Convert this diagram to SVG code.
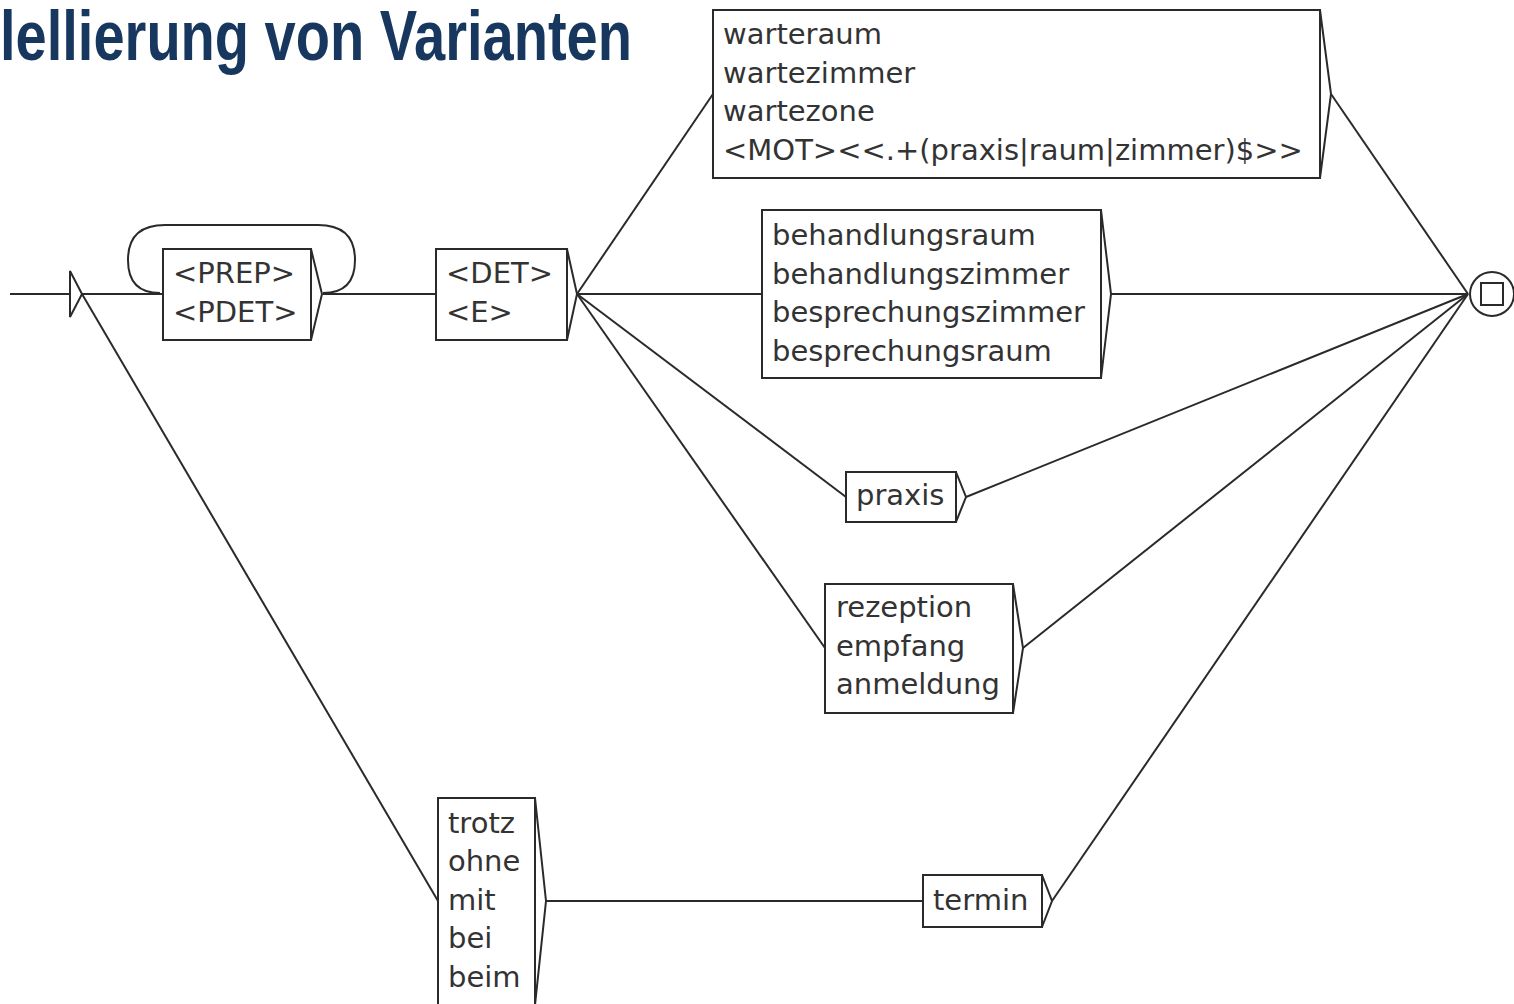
<svg xmlns="http://www.w3.org/2000/svg" width="1514" height="1004" viewBox="0 0 1514 1004">
<style>
.bx{fill:#fff;stroke:#2a2a2a;stroke-width:2}
.ar{fill:none;stroke:#2a2a2a;stroke-width:2;stroke-linejoin:miter}
.ln{fill:none;stroke:#2a2a2a;stroke-width:2}
.t{font-family:"DejaVu Sans","Liberation Sans",sans-serif;font-size:29px;fill:#333}
.title{font-family:"Liberation Sans",Arial,sans-serif;font-weight:bold;font-size:70px;fill:#17375f}
</style>
<rect width="1514" height="1004" fill="#fff"/>
<text class="title" x="0" y="60" textLength="632" lengthAdjust="spacingAndGlyphs">lellierung von Varianten</text>
<g id="connectors">
<path class="ln" d="M10,294 H70"/>
<path class="ln" d="M82,294 H163"/>
<path class="ln" d="M160,293 Q128,293 128,260 Q128,225 165,225 L318,225 Q355,225 355,260 Q355,293 323,293"/>
<path class="ln" d="M323,294 H436"/>
<path class="ln" d="M577,294 L713,94"/>
<path class="ln" d="M577,294 H762"/>
<path class="ln" d="M577,294 L846,497"/>
<path class="ln" d="M577,294 L825,648"/>
<path class="ln" d="M1331,94 L1468,294"/>
<path class="ln" d="M1111,294 H1468"/>
<path class="ln" d="M966,497 L1468,294"/>
<path class="ln" d="M1023,648 L1468,294"/>
<path class="ln" d="M82,294 L438,901"/>
<path class="ln" d="M546,901 H923"/>
<path class="ln" d="M1052,901 L1468,294"/>
</g>
<g id="initial">
<path class="ar" d="M70,271 V317 L82,294 Z"/>
</g>
<g id="final">
<circle cx="1492" cy="294" r="22" fill="#fff" stroke="#2a2a2a" stroke-width="2"/>
<rect x="1481" y="283" width="22" height="22" fill="none" stroke="#2a2a2a" stroke-width="2"/>
</g>
<g id="n-prep">
<rect class="bx" x="163" y="249" width="148" height="91"/>
<path class="ar" d="M311,249 L322,294 L311,340"/>
<text class="t" x="173" y="283">&lt;PREP&gt;</text>
<text class="t" x="173" y="322">&lt;PDET&gt;</text>
</g>
<g id="n-det">
<rect class="bx" x="436" y="249" width="131" height="91"/>
<path class="ar" d="M567,249 L577,294 L567,340"/>
<text class="t" x="446" y="283">&lt;DET&gt;</text>
<text class="t" x="446" y="322">&lt;E&gt;</text>
</g>
<g id="n-warte">
<rect class="bx" x="713" y="10" width="607" height="168"/>
<path class="ar" d="M1320,10 L1331,94 L1320,178"/>
<text class="t" x="723" y="44">warteraum</text>
<text class="t" x="723" y="82.5">wartezimmer</text>
<text class="t" x="723" y="121">wartezone</text>
<text class="t" x="723" y="159.5">&lt;MOT&gt;&lt;&lt;.+(praxis|raum|zimmer)$&gt;&gt;</text>
</g>
<g id="n-behandlung">
<rect class="bx" x="762" y="210" width="339" height="168"/>
<path class="ar" d="M1101,210 L1111,294 L1101,378"/>
<text class="t" x="772" y="245">behandlungsraum</text>
<text class="t" x="772" y="284">behandlungszimmer</text>
<text class="t" x="772" y="322">besprechungszimmer</text>
<text class="t" x="772" y="361">besprechungsraum</text>
</g>
<g id="n-praxis">
<rect class="bx" x="846" y="472" width="110" height="50"/>
<path class="ar" d="M956,472 L966,497 L956,522"/>
<text class="t" x="856" y="505">praxis</text>
</g>
<g id="n-rezeption">
<rect class="bx" x="825" y="584" width="188" height="129"/>
<path class="ar" d="M1013,584 L1023,648 L1013,713"/>
<text class="t" x="836" y="617">rezeption</text>
<text class="t" x="836" y="656">empfang</text>
<text class="t" x="836" y="694">anmeldung</text>
</g>
<g id="n-trotz">
<rect class="bx" x="438" y="798" width="97" height="207"/>
<path class="ar" d="M535,798 L546,901 L535,1005"/>
<text class="t" x="448" y="833">trotz</text>
<text class="t" x="448" y="871">ohne</text>
<text class="t" x="448" y="910">mit</text>
<text class="t" x="448" y="948">bei</text>
<text class="t" x="448" y="987">beim</text>
</g>
<g id="n-termin">
<rect class="bx" x="923" y="875" width="119" height="52"/>
<path class="ar" d="M1042,875 L1052,901 L1042,927"/>
<text class="t" x="933" y="910">termin</text>
</g>
</svg>
